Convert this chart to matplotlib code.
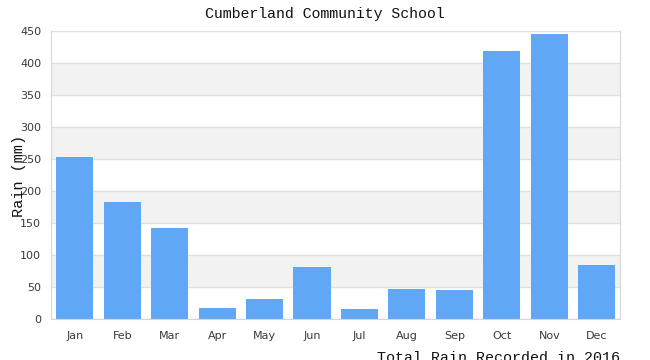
import matplotlib
matplotlib.use('Agg')
import matplotlib.pyplot as plt

months = ['Jan', 'Feb', 'Mar', 'Apr', 'May', 'Jun', 'Jul', 'Aug', 'Sep', 'Oct', 'Nov', 'Dec']
rain = [253, 183, 142, 17, 31, 81, 16, 47, 45, 419, 445, 84]
yticks = [0, 50, 100, 150, 200, 250, 300, 350, 400, 450]

fig = plt.figure(figsize=(6.5, 3.6), dpi=100)
ax = fig.add_axes([0.0785, 0.114, 0.876, 0.8])

# alternating bands
for lo in range(50, 450, 100):
    ax.axhspan(lo, lo + 50, color='#f2f2f2', zorder=0, lw=0)
for y in yticks:
    ax.axhline(y, color='#e0e0e0', lw=1, zorder=1)

x = range(len(months))
ax.bar(x, rain, width=0.78, color='#60a8f5', zorder=2)

ax.set_xlim(-0.5, 11.5)
ax.set_ylim(0, 450)
ax.set_xticks(list(x))
ax.set_xticklabels(months)
ax.set_yticks(yticks)
ax.tick_params(length=0, labelsize=8, colors='#3a3a3a', pad=7)
ax.tick_params(axis='x', pad=9)
for s in ax.spines.values():
    s.set_color('#d6d6d6')
ax.spines['top'].set_visible(False)

fig.text(0.5, 0.96, 'Cumberland Community School', ha='center', va='center',
         family='Liberation Mono', fontsize=10.7, color='#111111')
fig.text(0.029, 0.51, 'Rain (mm)', rotation=90, ha='center', va='center',
         family='Liberation Mono', fontsize=11, color='#111111')
fig.text(0.954, -0.014, 'Total Rain Recorded in 2016', ha='right', va='bottom',
         family='Liberation Mono', fontsize=10.8, color='#111111')

plt.savefig('out.png', dpi=100)
